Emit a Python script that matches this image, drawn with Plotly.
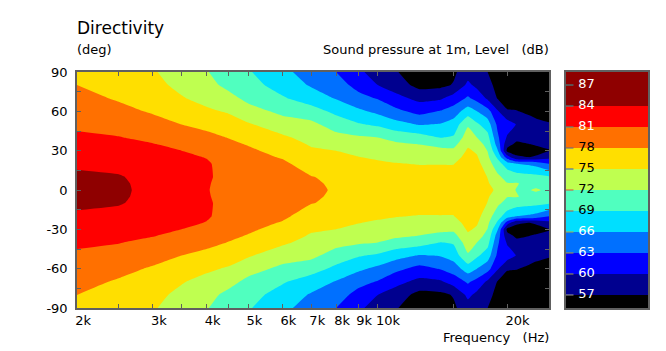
import plotly.graph_objects as go

# Frequencies in Hz (columns) and angles in degrees (rows, upper half; the response is symmetric)
frequencies = [2000, 2500, 3000, 3500, 4000, 4500, 5000, 6000, 7000, 8000, 9000, 10000,
               11000, 12500, 14000, 15000, 16200, 17000, 18000, 19000, 20000, 21000,
               22500, 23300, 25000]
angles_upper = [0, 5, 10, 20, 25, 30, 35, 40, 50, 60, 70, 80, 90]

# Level (dB) per frequency, one value per angle in angles_upper
level_2000 = [85.5, 85.1, 84.6, 83.5, 83.0, 82.5, 82.0, 81.5, 80.5, 79.7, 78.9, 78.0, 77.0]
level_2500 = [84.5, 84.4, 84.2, 83.2, 82.7, 82.2, 81.7, 81.1, 80.0, 78.8, 77.7, 76.8, 76.0]
level_3000 = [83.2, 83.2, 83.1, 82.5, 82.1, 81.7, 81.1, 80.4, 79.1, 77.7, 76.6, 75.8, 75.3]
level_3500 = [82.2, 82.2, 82.2, 81.9, 81.6, 81.0, 80.3, 79.5, 78.0, 76.6, 75.2, 74.3, 73.5]
level_4000 = [81.1, 81.15, 81.25, 81.3, 80.9, 80.3, 79.6, 78.9, 77.1, 75.5, 74.1, 73.0, 72.2]
level_4500 = [80.4, 80.4, 80.4, 80.0, 79.7, 79.3, 78.6, 77.9, 76.4, 74.7, 73.0, 71.2, 70.3]
level_5000 = [79.8, 79.7, 79.6, 79.3, 79.0, 78.5, 77.8, 77.0, 75.3, 73.2, 71.2, 70.1, 69.3]
level_6000 = [79.0, 79.0, 78.9, 78.5, 77.8, 77.0, 76.3, 75.5, 73.4, 71.3, 69.3, 67.8, 66.7]
level_7000 = [78.6, 78.4, 78.1, 76.8, 76.1, 75.4, 74.7, 74.0, 72.8, 70.2, 67.6, 65.7, 64.8]
level_8000 = [77.7, 77.6, 77.5, 76.2, 75.6, 75.0, 74.0, 73.0, 70.6, 68.3, 65.8, 64.4, 63.0]
level_9000 = [77.3, 77.2, 77.0, 75.9, 75.1, 74.3, 73.4, 72.4, 69.3, 66.6, 64.0, 62.0, 60.8]
level_10000 = [77.0, 76.8, 76.6, 75.5, 74.6, 73.7, 72.8, 72.0, 68.5, 65.3, 62.8, 60.0, 58.3]
level_11000 = [76.8, 76.6, 76.3, 75.1, 74.4, 73.7, 72.5, 71.0, 67.1, 63.8, 60.9, 58.6, 57.2]
level_12500 = [76.5, 76.3, 76.0, 74.9, 74.0, 73.2, 71.9, 70.3, 65.8, 62.0, 59.2, 56.0, 55.5]
level_14000 = [76.6, 76.4, 76.1, 74.9, 73.9, 72.8, 71.0, 68.9, 66.2, 63.2, 59.6, 56.3, 55.6]
level_15000 = [76.8, 76.6, 76.3, 74.9, 73.8, 72.6, 71.0, 69.3, 67.3, 64.4, 61.3, 57.2, 56.5]
level_16200 = [77.7, 77.5, 77.3, 76.6, 76.0, 75.4, 74.5, 73.6, 71.6, 67.5, 63.4, 60.7, 58.6]
level_17000 = [77.0, 76.9, 76.8, 75.9, 75.3, 74.6, 73.3, 72.0, 69.5, 66.0, 62.0, 59.2, 57.6]
level_18000 = [75.7, 75.3, 74.9, 73.4, 72.6, 71.9, 71.0, 70.0, 67.5, 64.1, 59.5, 58.0, 57.0]
level_19000 = [74.5, 73.6, 72.6, 70.2, 68.5, 66.2, 64.5, 63.5, 62.3, 60.3, 56.8, 56.0, 55.5]
level_20000 = [72.8, 72.1, 71.0, 67.5, 61.5, 56.2, 58.0, 59.6, 61.5, 57.2, 56.0, 55.5, 55.0]
level_21000 = [71.9, 72.2, 70.4, 66.0, 57.4, 56.0, 56.5, 57.8, 59.9, 57.1, 56.0, 55.5, 55.0]
level_22500 = [71.9, 71.2, 70.0, 65.5, 57.0, 55.8, 57.0, 58.1, 57.9, 56.6, 55.8, 55.3, 55.0]
level_23300 = [72.3, 71.2, 69.9, 65.0, 57.3, 56.1, 57.3, 58.0, 57.6, 56.3, 55.7, 55.2, 55.0]
level_25000 = [71.5, 70.6, 69.3, 63.0, 59.0, 56.9, 57.4, 58.0, 57.2, 56.0, 55.5, 55.0, 55.0]

levels_by_frequency = [
    level_2000, level_2500, level_3000, level_3500, level_4000, level_4500, level_5000,
    level_6000, level_7000, level_8000, level_9000, level_10000, level_11000, level_12500,
    level_14000, level_15000, level_16200, level_17000, level_18000, level_19000,
    level_20000, level_21000, level_22500, level_23300, level_25000,
]

band_colors = ["#000000", "#00008f", "#0000ff", "#0070ff", "#00dfff", "#50ffbf",
               "#bfff50", "#ffdf00", "#ff7000", "#ff0000", "#8f0000"]
band_edges = [55.14, 57, 60, 63, 66, 69, 72, 75, 78, 81, 84, 88.86]
band_mids = [55.5, 58.5, 61.5, 64.5, 67.5, 70.5, 73.5, 76.5, 79.5, 82.5, 85.5]
scale_ticks = [57, 60, 63, 66, 69, 72, 75, 78, 81, 84, 87]
scale_label_colors = ["white", "white", "white", "white", "black", "black", "black",
                      "black", "white", "white", "white"]
scale_tick_colors = ["#a0a0a0", "#a8a040", "#b09a30", "#b0b040", "#b85a40", "#e05030",
                     "#3355cc", "#556699", "#30a0a0", "#30a0a0", "#30a0a0"]

freq_ticks = [2000, 2500, 3000, 3500, 4000, 4500, 5000, 6000, 7000, 8000, 9000, 10000, 15000, 20000]
freq_labels = ["2k", "", "3k", "", "4k", "", "5k", "6k", "7k", "8k", "9k", "10k", "", "20k"]
angle_ticks = [-90, -75, -60, -45, -30, -15, 0, 15, 30, 45, 60, 75, 90]
angle_labels = ["-90", "", "-60", "", "-30", "", "0", "", "30", "", "60", "", "90"]

angles = [-a for a in angles_upper[:0:-1]] + angles_upper
columns = [col[:0:-1] + col for col in levels_by_frequency]
z_grid = [list(row) for row in zip(*columns)]

W, H = 666, 351
FONT = "DejaVu Sans"
colorscale = [[i / (len(band_colors) - 1), c] for i, c in enumerate(band_colors)]

fig = go.Figure()
fig.add_trace(go.Contour(
    x=frequencies, y=angles, z=z_grid,
    autocontour=False,
    contours=dict(start=57, end=84, size=3, coloring="fill", showlines=False),
    line=dict(width=0, smoothing=0.4),
    colorscale=colorscale, showscale=False, hoverinfo="skip",
    xaxis="x", yaxis="y",
))
fig.add_trace(go.Heatmap(
    x=[0, 1], y=band_edges, z=[[m] for m in band_mids],
    colorscale=colorscale, zmin=55.5, zmax=85.5, showscale=False, hoverinfo="skip",
    xaxis="x2", yaxis="y2",
))
fig.add_trace(go.Scatter(
    x=[0.04] * len(scale_ticks), y=scale_ticks, mode="markers",
    marker=dict(symbol="line-ew", size=6, line=dict(width=1, color=scale_tick_colors)),
    hoverinfo="skip", showlegend=False, xaxis="x2", yaxis="y2",
))
fig.add_trace(go.Scatter(
    x=[0.15] * len(scale_ticks), y=scale_ticks, mode="text",
    text=[str(t) for t in scale_ticks], textposition="middle right",
    textfont=dict(family=FONT, size=13, color=scale_label_colors),
    hoverinfo="skip", showlegend=False, xaxis="x2", yaxis="y2",
))

AXC = "#606060"
LW = 1.5
fig.update_layout(
    width=W, height=H, autosize=False,
    margin=dict(l=0, r=0, t=0, b=0, autoexpand=False),
    paper_bgcolor="white", plot_bgcolor="white",
    font=dict(family=FONT, size=13, color="black"),
    showlegend=False,
    xaxis=dict(
        type="log", range=[3.30103, 4.39794], domain=[77 / W, 549 / W], anchor="y",
        tickmode="array", tickvals=freq_ticks, ticktext=freq_labels,
        ticks="inside", ticklen=4, tickcolor=AXC, tickwidth=1, tickangle=0, automargin=False,
        ticklabelposition="outside right", ticklabelshift=-3,
        showgrid=False, zeroline=False, showline=True, linecolor=AXC, linewidth=LW, mirror="ticks",
        tickfont=dict(family=FONT, size=13, color="black"),
    ),
    yaxis=dict(
        range=[-90, 90], domain=[1 - 308 / H, 1 - 72 / H], anchor="x", automargin=False,
        tickmode="array", tickvals=angle_ticks, ticktext=angle_labels,
        ticks="inside", ticklen=4, tickcolor=AXC, tickwidth=1, ticklabelstandoff=5,
        showgrid=False, zeroline=False, showline=True, linecolor=AXC, linewidth=LW, mirror="ticks",
        tickfont=dict(family=FONT, size=13, color="black"),
    ),
    xaxis2=dict(
        range=[0, 1], domain=[566 / W, 648 / W], anchor="y2", automargin=False,
        showticklabels=False, ticks="", showgrid=False, zeroline=False,
        showline=True, linecolor=AXC, linewidth=LW, mirror=True,
    ),
    yaxis2=dict(
        range=[band_edges[0], band_edges[-1]], domain=[1 - 308 / H, 1 - 72 / H], anchor="x2",
        automargin=False, showticklabels=False, ticks="", showgrid=False, zeroline=False,
        showline=True, linecolor=AXC, linewidth=LW, mirror=True,
    ),
    annotations=[
        dict(text="Directivity", x=77 / W, y=1 - 28 / H, xref="paper", yref="paper", xshift=-2,
             xanchor="left", yanchor="middle", showarrow=False, font=dict(size=17)),
        dict(text="(deg)", x=77 / W, y=1 - 50 / H, xref="paper", yref="paper", xshift=-2,
             xanchor="left", yanchor="middle", showarrow=False, font=dict(size=13)),
        dict(text="Sound pressure at 1m, Level\u00a0\u00a0\u00a0(dB)", x=549 / W, y=1 - 50 / H,
             xref="paper", yref="paper", xanchor="right", yanchor="middle", xshift=2,
             showarrow=False, font=dict(size=13)),
        dict(text="Frequency\u00a0\u00a0\u00a0(Hz)", x=549 / W, y=1 - 337 / H,
             xref="paper", yref="paper", xanchor="right", yanchor="middle", xshift=2,
             showarrow=False, font=dict(size=13)),
    ],
)

fig.write_html("out.html", config={"displayModeBar": False},
               post_script="document.body.style.margin='0';")
